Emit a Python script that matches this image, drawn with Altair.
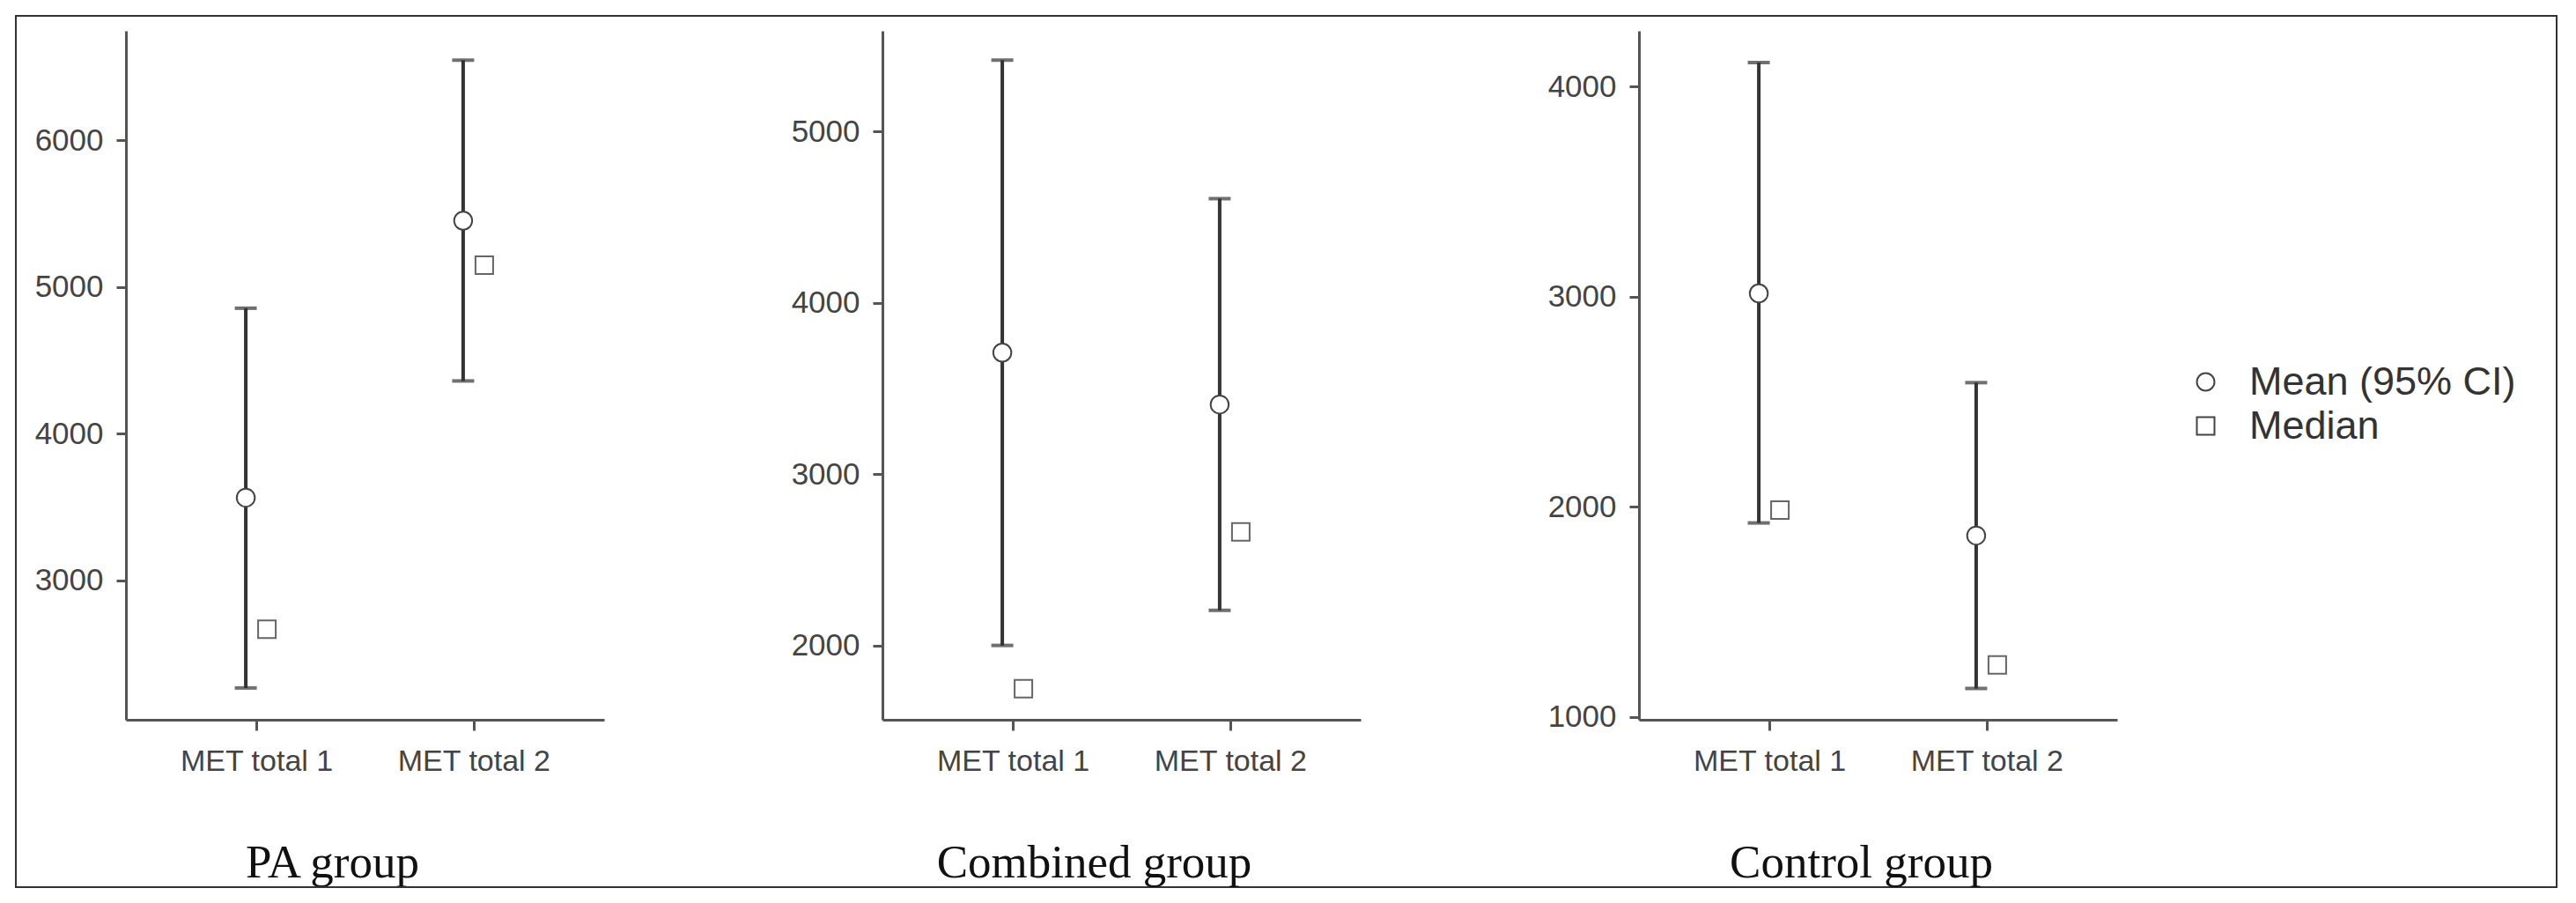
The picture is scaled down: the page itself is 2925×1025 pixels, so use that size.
import altair as alt
import pandas as pd

measures = ["MET total 1", "MET total 2"]
stats = ["Mean (95% CI)", "Median"]

pa_mean = [3563, 5452]
pa_lo = [2265, 4359]
pa_hi = [4855, 6547]
pa_median = [2666, 5149]

comb_mean = [3710, 3407]
comb_lo = [2000, 2205]
comb_hi = [5418, 4609]
comb_median = [1747, 2663]

ctrl_mean = [3016, 1863]
ctrl_lo = [1923, 1135]
ctrl_hi = [4115, 2591]
ctrl_median = [1984, 1247]

pa_ticks = [3000, 4000, 5000, 6000]
comb_ticks = [2000, 3000, 4000, 5000]
ctrl_ticks = [1000, 2000, 3000, 4000]

pa_domain = [2048, 6747]
comb_domain = [1566, 5589]
ctrl_domain = [986, 4266]

W, H = 543, 782


def panel(mean, lo, hi, med, domain, ticks, title, title_x, border=False):
    df = pd.DataFrame({"measure": measures, "mean": mean, "lo": lo, "hi": hi, "median": med})
    base = alt.Chart(df)
    x = alt.X(
        "measure:N",
        sort=measures,
        scale=alt.Scale(type="point", padding=0.6, domain=measures),
        axis=alt.Axis(
            title=title, titleX=title_x, titleY=178, titleAlign="center",
            titleBaseline="alphabetic", titleFont="Liberation Serif", titleFontSize=53,
            titleFontWeight="normal", titleColor="#111",
            labelAngle=0, labelPadding=18, tickSize=12, labelFontSize=34,
            labelFont="Liberation Sans", labelColor="#444", grid=False,
            domainColor="#555", domainWidth=3, tickColor="#555", tickWidth=3,
        ),
    )
    ysc = alt.Scale(domain=domain, nice=False, zero=False)
    yax = alt.Axis(
        values=ticks, title=None, tickSize=11, labelPadding=15, labelFontSize=35,
        format="d", labelFont="Liberation Sans", labelColor="#444", grid=False,
        domainColor="#555", domainWidth=3, tickColor="#555", tickWidth=3,
    )
    shape = alt.Shape(
        "stat:N",
        scale=alt.Scale(domain=stats, range=["circle", "square"]),
        legend=alt.Legend(
            orient="none", legendX=2339, legendY=376, title=None,
            labelFont="Liberation Sans", labelFontSize=45, labelColor="#333", labelLimit=0,
            symbolSize=400, symbolStrokeWidth=2, symbolOpacity=1,
            labelOffset=27, rowPadding=4, padding=0,
        ),
    )
    rule = base.mark_rule(color="#333", strokeWidth=4, xOffset=-12).encode(
        x=x, y=alt.Y("lo:Q", scale=ysc, axis=yax), y2="hi:Q"
    )
    t_lo = base.mark_tick(color="#333", size=25, thickness=4, xOffset=-12).encode(
        x=x, y=alt.Y("lo:Q", scale=ysc, axis=yax)
    )
    t_hi = base.mark_tick(color="#333", size=25, thickness=4, xOffset=-12).encode(
        x=x, y=alt.Y("hi:Q", scale=ysc, axis=yax)
    )
    m_bg = base.mark_point(
        filled=True, color="white", shape="circle", size=420, opacity=1, xOffset=-12
    ).encode(x=x, y=alt.Y("mean:Q", scale=ysc, axis=yax))
    d_bg = base.mark_point(
        filled=True, color="white", shape="square", size=400, opacity=1, xOffset=12
    ).encode(x=x, y=alt.Y("median:Q", scale=ysc, axis=yax))
    m_pt = base.transform_calculate(stat="'Mean (95% CI)'").mark_point(
        filled=False, color="#444", strokeWidth=2, size=420, opacity=1, xOffset=-12
    ).encode(x=x, y=alt.Y("mean:Q", scale=ysc, axis=yax), shape=shape)
    d_pt = base.transform_calculate(stat="'Median'").mark_point(
        filled=False, color="#666", strokeWidth=2, size=400, opacity=1, xOffset=12
    ).encode(x=x, y=alt.Y("median:Q", scale=ysc, axis=yax), shape=shape)
    layers = [rule, t_lo, t_hi, m_bg, d_bg, m_pt, d_pt]
    if border:
        frame = alt.Chart(pd.DataFrame({"k": [0]})).mark_rect(
            filled=False, fillOpacity=0, stroke="#333", strokeWidth=2
        ).encode(x=alt.value(-125), x2=alt.value(2760), y=alt.value(-17), y2=alt.value(972))
        layers.insert(0, frame)
    return alt.layer(*layers).properties(width=W, height=H)


p1 = panel(pa_mean, pa_lo, pa_hi, pa_median, pa_domain, pa_ticks, "PA group", 234, border=True)
p2 = panel(comb_mean, comb_lo, comb_hi, comb_median, comb_domain, comb_ticks, "Combined group", 240)
p3 = panel(ctrl_mean, ctrl_lo, ctrl_hi, ctrl_median, ctrl_domain, ctrl_ticks, "Control group", 252)

chart = alt.hconcat(p1, p2, p3, spacing=316, bounds="flush").properties(
    padding={"left": 9, "top": 9, "right": 0, "bottom": 0},
    background="white",
).configure_view(strokeWidth=0)

chart.save("out.html", embed_options={"renderer": "svg", "actions": False})
